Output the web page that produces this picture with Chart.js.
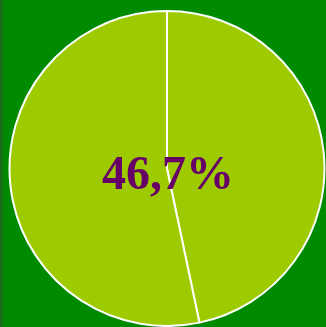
<!DOCTYPE html>
<html>
<head>
<meta charset="utf-8">
<script src="https://cdn.jsdelivr.net/npm/chart.js@4.4.1/dist/chart.umd.min.js"></script>
<style>
  html, body {
    margin: 0;
    padding: 0;
    width: 326px;
    height: 327px;
    overflow: hidden;
    background: linear-gradient(to right, #1a6e1a 0, #1a6e1a 3px, #008a00 3px, #008a00 100%);
  }
  #wrap { position: absolute; left: 0; top: 0; width: 326px; height: 327px; }
</style>
</head>
<body>
<div id="wrap"><canvas id="pie"></canvas></div>
<script>
// share of the whole, and the rest
const labels = ['Sim', 'Não'];
const values = [46.7, 53.3];
const sliceColors = ['#9ecb00', '#9ecb00'];

// big percentage in the middle of the pie
const centerLabel = {
  id: 'centerLabel',
  afterDraw(chart) {
    const { ctx, chartArea } = chart;
    const txt = values[0].toFixed(1).replace('.', ',') + '%';
    ctx.save();
    ctx.font = 'bold 48px "Liberation Serif", "Times New Roman", serif';
    ctx.fillStyle = '#660066';
    ctx.textAlign = 'center';
    ctx.textBaseline = 'alphabetic';
    ctx.fillText(txt, 168, 189);
    ctx.restore();
  }
};

const ctx = document.getElementById('pie').getContext('2d');
new Chart(ctx, {
  type: 'pie',
  data: {
    labels: labels,
    datasets: [{
      data: values,
      backgroundColor: sliceColors,
      borderColor: '#ffffff',
      borderWidth: 2
    }]
  },
  options: {
    responsive: true,
    maintainAspectRatio: false,
    animation: false,
    layout: { padding: { left: 8, top: 10, right: 0, bottom: 0 } },
    plugins: {
      legend: { display: false },
      tooltip: { enabled: false }
    }
  },
  plugins: [centerLabel]
});
</script>
</body>
</html>
